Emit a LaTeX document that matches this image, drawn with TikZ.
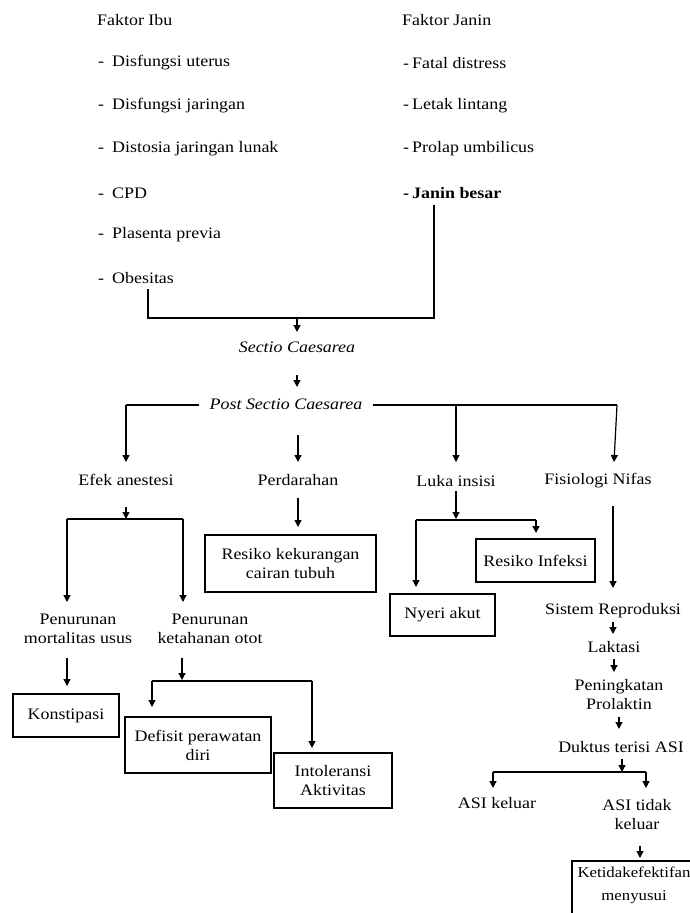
\documentclass[tikz,border=0pt]{standalone}
\usepackage{fontspec}
\setmainfont{Liberation Serif}[FakeStretch=1.12]
\usetikzlibrary{arrows.meta}
\begin{document}
\begin{tikzpicture}[x=1pt,y=-1pt,
  txt/.style={inner sep=0pt,font=\fontsize{16}{19}\selectfont,align=center},
  lst/.style={txt,anchor=west},
  bx/.style={draw,line width=1.2pt,inner sep=0pt,font=\fontsize{16}{19}\selectfont,align=center},
  ln/.style={line width=1.2pt},
  arr/.style={line width=1.2pt,-{Triangle[length=7pt,width=7pt]}}]
\useasboundingbox (0,0) rectangle (690,913);
% top lists
\node[lst] (fi) at (97,20) {Faktor Ibu};
\node[lst] (i1) at (98,63) {\makebox[14pt][l]{-}Disfungsi uterus};
\node[lst] (i2) at (98,106) {\makebox[14pt][l]{-}Disfungsi jaringan};
\node[lst] (i3) at (98,149) {\makebox[14pt][l]{-}Distosia jaringan lunak};
\node[lst] (i4) at (98,193) {\makebox[14pt][l]{-}CPD};
\node[lst] (i5) at (98,235) {\makebox[14pt][l]{-}Plasenta previa};
\node[lst] (i6) at (98,278) {\makebox[14pt][l]{-}Obesitas};
\node[lst] (fj) at (402,20) {Faktor Janin};
\node[lst] (j1) at (403,63) {\makebox[9pt][l]{-}Fatal distress};
\node[lst] (j2) at (403,106) {\makebox[9pt][l]{-}Letak lintang};
\node[lst] (j3) at (403,149) {\makebox[9pt][l]{-}Prolap umbilicus};
\node[lst] (j4) at (403,193) {\bfseries\makebox[9pt][l]{-}Janin besar};
% middle chain
\node[txt] (sc) at (297,347) {\itshape Sectio Caesarea};
\node[txt] (psc) at (286,404) {\itshape Post Sectio Caesarea};
\node[txt] (efek) at (126,480) {Efek anestesi};
\node[txt] (perd) at (298,480) {Perdarahan};
\node[txt] (luka) at (456,481) {Luka insisi};
\node[txt] (fis) at (598,481) {Fisiologi Nifas};
\node[txt] (pmu) at (78,629) {Penurunan\\mortalitas usus};
\node[txt] (pko) at (210,629) {Penurunan\\ketahanan otot};
\node[txt] (sr) at (613,611) {Sistem Reproduksi};
\node[txt] (lak) at (614,647) {Laktasi};
\node[txt] (pp) at (619,695) {Peningkatan\\Prolaktin};
\node[txt] (dta) at (621,747) {Duktus terisi ASI};
\node[txt] (ak) at (497,803) {ASI keluar};
\node[txt] (atk) at (637,815) {ASI tidak\\keluar};
% boxes
\node[bx,minimum width=171pt,minimum height=57pt] (rkc) at (290.5,563.5) {Resiko kekurangan\\cairan tubuh};
\node[bx,minimum width=119pt,minimum height=43pt] (ri) at (535.5,560.5) {Resiko Infeksi};
\node[bx,minimum width=105pt,minimum height=42pt] (na) at (442.5,615) {Nyeri akut};
\node[bx,minimum width=106pt,minimum height=43pt] (kon) at (66,715.5) {Konstipasi};
\node[bx,minimum width=146pt,minimum height=56pt] (dpd) at (198,745) {Defisit perawatan\\diri};
\node[bx,minimum width=118pt,minimum height=55pt] (ia) at (333,780.5) {Intoleransi\\Aktivitas};
\node[txt,font=\fontsize{15}{23}\selectfont] (km) at (634,885) {Ketidakefektifan\\menyusui};
\coordinate (kmtr) at (700,861);
\coordinate (kmtl) at (572,861);
\coordinate (kmbl) at (572,920);
\draw[ln] (kmtr) -- (kmtl) -- (kmbl);
% connectors
\coordinate (a1) at (148,289);
\coordinate (a2) at (148,318);
\coordinate (a3) at (434,318);
\coordinate (a4) at (434,205);
\draw[ln] (a1) -- (a2) -- (a3) -- (a4);
\draw[arr] (297,318) -- (297,332);
\draw[arr] (297,375) -- (297,387);
% post sectio branches
\draw[ln] (psc.west) ++(-10,1) coordinate (pl) -- (126,405) coordinate (pl2);
\draw[arr] (pl2) -- (126,462);
\draw[ln] (psc.east) ++(10,1) coordinate (pr) -- (617,405) coordinate (pr2);
\draw[arr] (pr2) -- (614,462);
\draw[arr] (456,405) -- (456,462);
\draw[arr] (298,435) -- (298,462);
% efek anestesi
\draw[arr] (126,507) -- (126,519);
\draw[ln] (67,519) -- (183,519);
\draw[arr] (67,519) -- (67,602);
\draw[arr] (183,519) -- (183,602);
% perdarahan
\draw[arr] (298,498) -- (298,527);
% luka insisi
\draw[arr] (456,491) -- (456,519);
\draw[ln] (416,520) -- (536,520);
\draw[arr] (536,520) -- (536,533);
\draw[arr] (416,520) -- (416,587);
% fisiologi
\draw[arr] (613,506) -- (613,588);
% penurunan
\draw[arr] (67,658) -- (67,686);
\draw[arr] (182,658) -- (182,680);
\draw[ln] (152,681) -- (312,681);
\draw[arr] (152,681) -- (152,707);
\draw[arr] (312,681) -- (312,748);
% laktasi chain
\draw[arr] (613,622) -- (613,634);
\draw[arr] (614,659) -- (614,672);
\draw[arr] (619,717) -- (619,729);
\draw[arr] (622,759) -- (622,772);
\draw[ln] (493,772) -- (646,772);
\draw[arr] (493,772) -- (493,788);
\draw[arr] (646,772) -- (646,788);
\draw[arr] (640,846) -- (640,858);
\end{tikzpicture}
\end{document}
